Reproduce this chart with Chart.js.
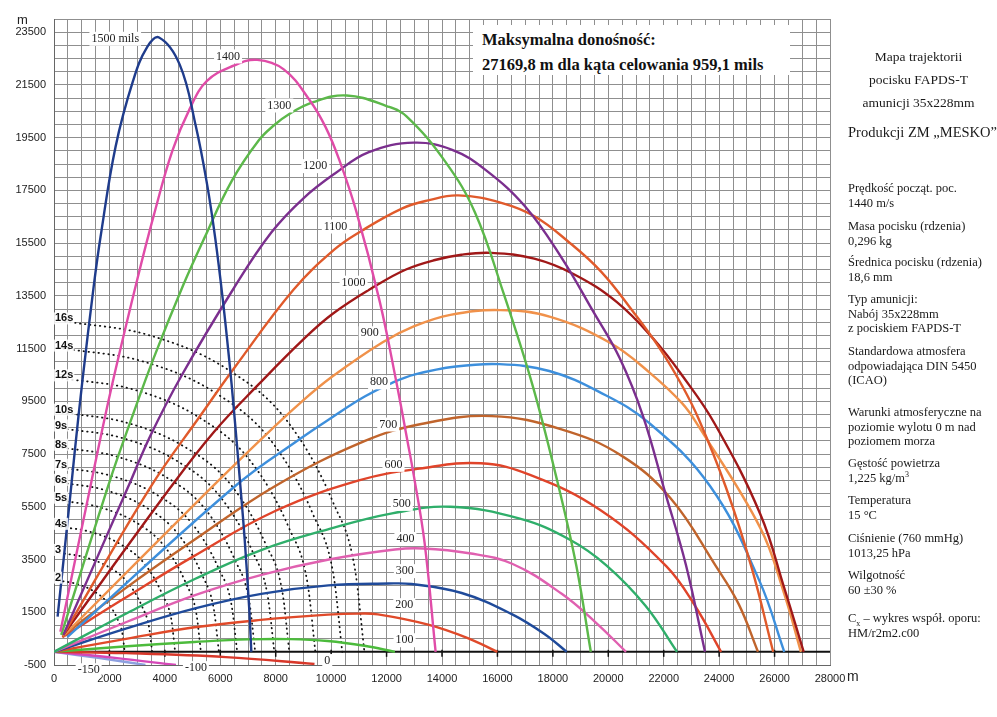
<!DOCTYPE html>
<html lang="pl">
<head>
<meta charset="utf-8">
<title>Mapa trajektorii pocisku FAPDS-T</title>
<script src="https://cdn.jsdelivr.net/npm/chart.js@4.4.1/dist/chart.umd.min.js"></script>
<style>
  body { margin: 0; background: #fff; }
  #wrap { position: relative; width: 997px; height: 717px; overflow: hidden; }
  #chart { position: absolute; left: 0; top: 0; }
  .serif { position: absolute; font-family: "Liberation Serif", "Times New Roman", serif; color: #1a1a1a; white-space: nowrap; }
  .head { left: 840px; width: 157px; text-align: center; font-size: 13.5px; }
  .info { left: 848px; font-size: 12.5px; line-height: 14.5px; }
  .info sup, .info sub { font-size: 8px; line-height: 0; }
  #maxbox { left: 473px; top: 25px; width: 317px; height: 50px; background: #fff; font-weight: bold; font-size: 16.5px; line-height: 25px; padding: 2px 0 0 9px; box-sizing: border-box; color: #111; }
  .unit { position: absolute; font-family: "Liberation Sans", Arial, sans-serif; color: #222; }
</style>
</head>
<body>
<div id="wrap">
  <canvas id="chart" width="997" height="717"></canvas>

  <div class="unit" style="left:17px; top:12px; font-size:13px;">m</div>
  <div class="unit" style="left:847px; top:668px; font-size:14px;">m</div>

  <div id="maxbox" class="serif">Maksymalna donośność:<br>27169,8 m dla kąta celowania 959,1 mils</div>

  <div class="serif head" style="top:49px;">Mapa trajektorii</div>
  <div class="serif head" style="top:72px;">pocisku FAPDS-T</div>
  <div class="serif head" style="top:95px;">amunicji 35x228mm</div>
  <div class="serif head" style="top:124px; font-size:14.5px; left:844px;">Produkcji ZM „MESKO”</div>

  <div class="serif info" style="top:181px;">Prędkość począt. poc.<br>1440 m/s</div>
  <div class="serif info" style="top:219px;">Masa pocisku (rdzenia)<br>0,296 kg</div>
  <div class="serif info" style="top:255px;">Średnica pocisku (rdzenia)<br>18,6 mm</div>
  <div class="serif info" style="top:292px;">Typ amunicji:<br>Nabój 35x228mm<br>z pociskiem FAPDS-T</div>
  <div class="serif info" style="top:344px;">Standardowa atmosfera<br>odpowiadająca DIN 5450<br>(ICAO)</div>
  <div class="serif info" style="top:405px;">Warunki atmosferyczne na<br>poziomie wylotu 0 m nad<br>poziomem morza</div>
  <div class="serif info" style="top:456px;">Gęstość powietrza<br>1,225 kg/m<sup>3</sup></div>
  <div class="serif info" style="top:493px;">Temperatura<br>15 °C</div>
  <div class="serif info" style="top:531px;">Ciśnienie (760 mmHg)<br>1013,25 hPa</div>
  <div class="serif info" style="top:568px;">Wilgotność<br>60 ±30 %</div>
  <div class="serif info" style="top:611px;">C<sub>x</sub> – wykres współ. oporu:<br>HM/r2m2.c00</div>
</div>

<script>
// trajectories [distance m, height m], angle in mils
const t1500 = [[130, 1330], [620, 6260], [740, 7510], [1030, 10320], [1430, 13840], [1680, 15740], [2220, 19150], [2860, 21680], [3360, 22930], [3790, 23300], [4540, 22260], [5110, 19970], [5530, 17690], [5820, 15670], [6100, 13270], [6330, 10990], [6480, 9320], [6720, 6350], [6880, 4260], [7040, 1710], [7120, 0]];
const t1400 = [[230, 760], [1360, 6510], [2080, 10050], [3000, 14100], [3600, 16550], [4270, 19000], [4900, 20600], [5510, 21640], [6480, 22230], [7330, 22450], [8290, 22090], [9220, 20930], [9800, 19900], [10300, 18640], [10900, 16730], [11750, 13300], [12350, 10250], [12760, 7960], [12980, 6700], [13370, 4150], [13770, 0]];
const t1300 = [[260, 640], [2020, 6500], [2800, 8850], [3600, 11150], [4660, 13900], [5420, 15680], [6410, 17850], [7390, 19400], [7950, 19980], [8490, 20400], [9350, 20850], [10560, 21100], [12000, 20700], [12720, 20310], [14130, 18570], [15190, 16660], [16220, 13600], [17250, 10170], [18100, 6730], [18840, 3300], [19370, 0]];
const t1200 = [[335, 640], [2660, 6220], [3490, 8220], [4610, 10490], [6470, 13760], [7840, 15900], [9000, 17200], [10150, 18150], [11360, 18950], [12990, 19310], [14390, 19030], [15570, 18280], [17000, 16890], [18300, 14970], [19460, 12900], [20410, 11140], [21250, 8950], [22050, 6050], [22800, 3300], [23490, 0]];
const t1100 = [[335, 640], [3460, 6210], [5310, 9000], [6530, 10800], [8640, 13730], [10110, 15250], [11090, 15960], [12550, 16810], [13500, 17120], [14580, 17310], [16170, 17020], [17350, 16510], [18530, 15580], [19740, 14420], [20910, 12880], [21860, 11500], [22670, 10080], [23270, 8810], [24240, 6250], [25170, 3200], [25950, 0]];
const t1000 = [[335, 640], [4180, 6200], [5770, 8340], [7390, 10150], [8970, 11820], [10070, 12830], [11640, 13900], [12700, 14500], [13710, 14850], [14700, 15060], [15780, 15130], [17330, 14910], [18760, 14320], [20300, 13270], [21620, 11880], [22680, 10460], [23840, 8650], [25490, 5210], [26350, 2420], [27050, 0]];
const t900 = [[335, 600], [5630, 6180], [7460, 8050], [8930, 9480], [10030, 10430], [11860, 11740], [13000, 12350], [14300, 12780], [16100, 12960], [17910, 12700], [20060, 11720], [21490, 10590], [22660, 9430], [23260, 8550], [25480, 4710], [26340, 2230], [26950, 0]];
const t800 = [[480, 560], [6530, 6280], [8910, 8100], [10000, 8870], [11210, 9680], [12200, 10200], [13030, 10520], [14500, 10820], [16070, 10910], [17870, 10650], [19670, 9860], [21460, 8690], [23690, 6260], [25450, 2700], [26350, 0]];
const t700 = [[300, 600], [2500, 2350], [5000, 4200], [8000, 6300], [11200, 7990], [13250, 8640], [15800, 8940], [18310, 8440], [20460, 7450], [22240, 5830], [23900, 3220], [24710, 1800], [25400, 0]];
const t600 = [[300, 550], [2500, 2000], [5000, 3600], [8000, 5350], [11000, 6500], [13200, 6950], [15400, 7150], [17200, 6700], [19710, 5380], [22090, 3250], [23150, 1710], [24070, 0]];
const t500 = [[0, 0], [2660, 1480], [5100, 2770], [7500, 3870], [9940, 4660], [12200, 5250], [14300, 5500], [16810, 5050], [18600, 4260], [19930, 3280], [21350, 1740], [22480, 0]];
const t400 = [[0, 0], [2660, 1150], [5090, 2150], [7490, 2920], [9920, 3500], [12300, 3880], [13300, 3920], [14980, 3740], [16530, 3340], [18320, 2200], [19530, 1130], [20640, 0]];
const t300 = [[0, 0], [2650, 900], [5090, 1650], [7480, 2200], [9900, 2520], [12070, 2590], [12900, 2570], [14710, 2230], [16500, 1440], [17720, 660], [18500, 0]];
const t200 = [[0, 0], [2650, 500], [5070, 930], [7460, 1210], [9890, 1410], [11000, 1450], [11690, 1420], [13500, 1030], [14930, 520], [16000, 0]];
const t100 = [[0, 0], [2640, 210], [5060, 370], [7000, 470], [8500, 480], [9870, 410], [11200, 230], [12300, 0]];
const t0 = [[0, 0], [2600, -50], [6200, -200], [9400, -460]];
const tMinus100 = [[0, 0], [2200, -230], [4400, -500]];
const tMinus150 = [[0, 0], [1650, -240], [3300, -500]];

const trajectories = [t1500, t1400, t1300, t1200, t1100, t1000, t900, t800, t700, t600, t500, t400, t300, t200, t100, t0, tMinus100, tMinus150];
const trajColors = ['#1f3c8c', '#e04ca8', '#5cb84a', '#7b2f8e', '#e05a2b', '#a01818', '#f0914a', '#3d8fdc', '#c0642c', '#e0442a', '#2fae6a', '#e060b0', '#1f4a9a', '#e04a2a', '#4cbb3c', '#d8382a', '#d548b8', '#8da0e0'];

// curve labels: text, distance m, height m
const curveLabels = [
  ['1500 mils', 2210, 23250], ['1400', 6280, 22580], ['1300', 8130, 20720], ['1200', 9430, 18420],
  ['1100', 10160, 16130], ['1000', 10810, 14000], ['900', 11390, 12080], ['800', 11730, 10220],
  ['700', 12060, 8620], ['600', 12250, 7090], ['500', 12550, 5610], ['400', 12680, 4280],
  ['300', 12660, 3060], ['200', 12640, 1770], ['100', 12650, 440], ['0', 9860, -350],
  ['-100', 5120, -620], ['-150', 1250, -700]
];

// time-of-flight isochrones [distance m, height m]
const iso2 = [[150, 2700], [770, 2590], [1400, 2320], [1910, 1890], [2300, 1220], [2470, 680], [2550, 0]];
const iso3 = [[200, 3750], [1060, 3600], [1950, 3230], [2660, 2630], [3190, 1690], [3430, 940], [3540, 0]];
const iso4 = [[250, 4740], [1310, 4550], [2400, 4080], [3280, 3320], [3930, 2130], [4240, 1190], [4370, 0]];
const iso5 = [[300, 5730], [1590, 5500], [2920, 4930], [3980, 4010], [4770, 2580], [5140, 1430], [5300, 0]];
const iso6 = [[300, 6410], [1790, 6150], [3270, 5510], [4460, 4490], [5360, 2880], [5770, 1600], [5950, 0]];
const iso7 = [[300, 6980], [1980, 6700], [3640, 6000], [4960, 4890], [5950, 3140], [6410, 1750], [6610, 0]];
const iso8 = [[300, 7740], [2180, 7430], [3990, 6660], [5450, 5420], [6530, 3480], [7040, 1940], [7260, 0]];
const iso9 = [[300, 8470], [2390, 8130], [4370, 7280], [5960, 5930], [7160, 3810], [7710, 2120], [7950, 0]];
const iso10 = [[300, 9070], [2550, 8710], [4670, 7800], [6370, 6350], [7640, 4080], [8240, 2270], [8490, 0]];
const iso12 = [[300, 10370], [2830, 9960], [5190, 8920], [7070, 7260], [8490, 4670], [9150, 2590], [9430, 0]];
const iso14 = [[350, 11500], [3120, 11040], [5720, 9890], [7800, 8050], [9360, 5180], [10090, 2880], [10400, 0]];
const iso16 = [[400, 12530], [3360, 12030], [6160, 10780], [8400, 8770], [10080, 5640], [10860, 3130], [11200, 0]];

const isochrones = [iso2, iso3, iso4, iso5, iso6, iso7, iso8, iso9, iso10, iso12, iso14, iso16];
const isoNames = ['2', '3', '4s', '5s', '6s', '7s', '8s', '9s', '10s', '12s', '14s', '16s'];

const axisTickMarks = [2000, 4000, 6000, 8000, 10000, 12000, 14000, 16000, 18000, 20000, 22000, 24000, 26000];

const toPts = (arr) => arr.map(([x, y]) => ({ x, y }));

const datasets = [];
trajectories.forEach((t, i) => {
  datasets.push({
    data: toPts(t),
    showLine: true,
    borderColor: trajColors[i],
    borderWidth: 2.4,
    pointRadius: 0,
    tension: 0.4,
    order: 0,
  });
});
isochrones.forEach((t) => {
  datasets.push({
    data: toPts(t),
    showLine: true,
    borderColor: '#111',
    borderWidth: 1.8,
    borderDash: [0.5, 4.5],
    borderCapStyle: 'round',
    pointRadius: 0,
    cubicInterpolationMode: 'monotone',
    order: 1,
  });
});

const overlay = {
  id: 'overlay',
  beforeDatasetsDraw(chart) {
    const { ctx, scales: { x, y } } = chart;
    const y0 = y.getPixelForValue(0);
    ctx.save();
    ctx.strokeStyle = '#111';
    ctx.lineWidth = 2;
    ctx.beginPath();
    ctx.moveTo(x.getPixelForValue(0), y0);
    ctx.lineTo(x.getPixelForValue(28000), y0);
    ctx.stroke();
    ctx.lineWidth = 1.5;
    axisTickMarks.forEach((v) => {
      const px = x.getPixelForValue(v);
      ctx.beginPath();
      ctx.moveTo(px, y0 - 2);
      ctx.lineTo(px, y0 + 5);
      ctx.stroke();
    });
    ctx.restore();
  },
  afterDatasetsDraw(chart) {
    const { ctx, scales: { x, y } } = chart;
    ctx.save();
    ctx.textBaseline = 'middle';

    ctx.font = '12px "Liberation Serif", "Times New Roman", serif';
    ctx.textAlign = 'center';
    curveLabels.forEach(([text, lx, ly]) => {
      const px = x.getPixelForValue(lx);
      const py = y.getPixelForValue(ly);
      const w = ctx.measureText(text).width;
      ctx.fillStyle = '#fff';
      ctx.fillRect(px - w / 2 - 2, py - 7, w + 4, 14);
      ctx.fillStyle = '#222';
      ctx.fillText(text, px, py);
    });

    ctx.font = 'bold 11px "Liberation Sans", Arial, sans-serif';
    ctx.textAlign = 'left';
    isochrones.forEach((t, i) => {
      const px = x.getPixelForValue(0) + 1;
      const py = y.getPixelForValue(t[0][1]) - 3;
      const w = ctx.measureText(isoNames[i]).width;
      ctx.fillStyle = 'rgba(255,255,255,0.85)';
      ctx.fillRect(px - 1, py - 6, w + 2, 12);
      ctx.fillStyle = '#111';
      ctx.fillText(isoNames[i], px, py);
    });
    ctx.restore();
  },
};

new Chart(document.getElementById('chart'), {
  type: 'scatter',
  data: { datasets },
  options: {
    responsive: false,
    animation: false,
    events: [],
    layout: { padding: { left: 0, right: 167, top: 19, bottom: 0 } },
    plugins: { legend: { display: false }, tooltip: { enabled: false } },
    scales: {
      x: {
        type: 'linear',
        min: 0,
        max: 28000,
        afterFit: (scale) => { scale.height = 52; },
        grid: { color: '#8f8f8f', lineWidth: 1, drawTicks: false },
        border: { color: '#666', width: 1 },
        ticks: {
          stepSize: 500,
          maxTicksLimit: 200,
          autoSkip: false,
          maxRotation: 0,
          padding: 7,
          color: '#222',
          font: { family: '"Liberation Sans", Arial, sans-serif', size: 11 },
          callback: (v) => (v % 2000 === 0 ? String(v) : ''),
        },
      },
      y: {
        type: 'linear',
        min: -500,
        max: 24000,
        afterFit: (scale) => { scale.width = 54; },
        grid: { color: '#8f8f8f', lineWidth: 1, drawTicks: false },
        border: { color: '#666', width: 1 },
        ticks: {
          stepSize: 500,
          maxTicksLimit: 200,
          autoSkip: false,
          padding: 8,
          color: '#222',
          font: { family: '"Liberation Sans", Arial, sans-serif', size: 11 },
          callback: (v) => ((v + 500) % 2000 === 0 ? String(v) : ''),
        },
      },
    },
  },
  plugins: [overlay],
});
</script>
</body>
</html>
